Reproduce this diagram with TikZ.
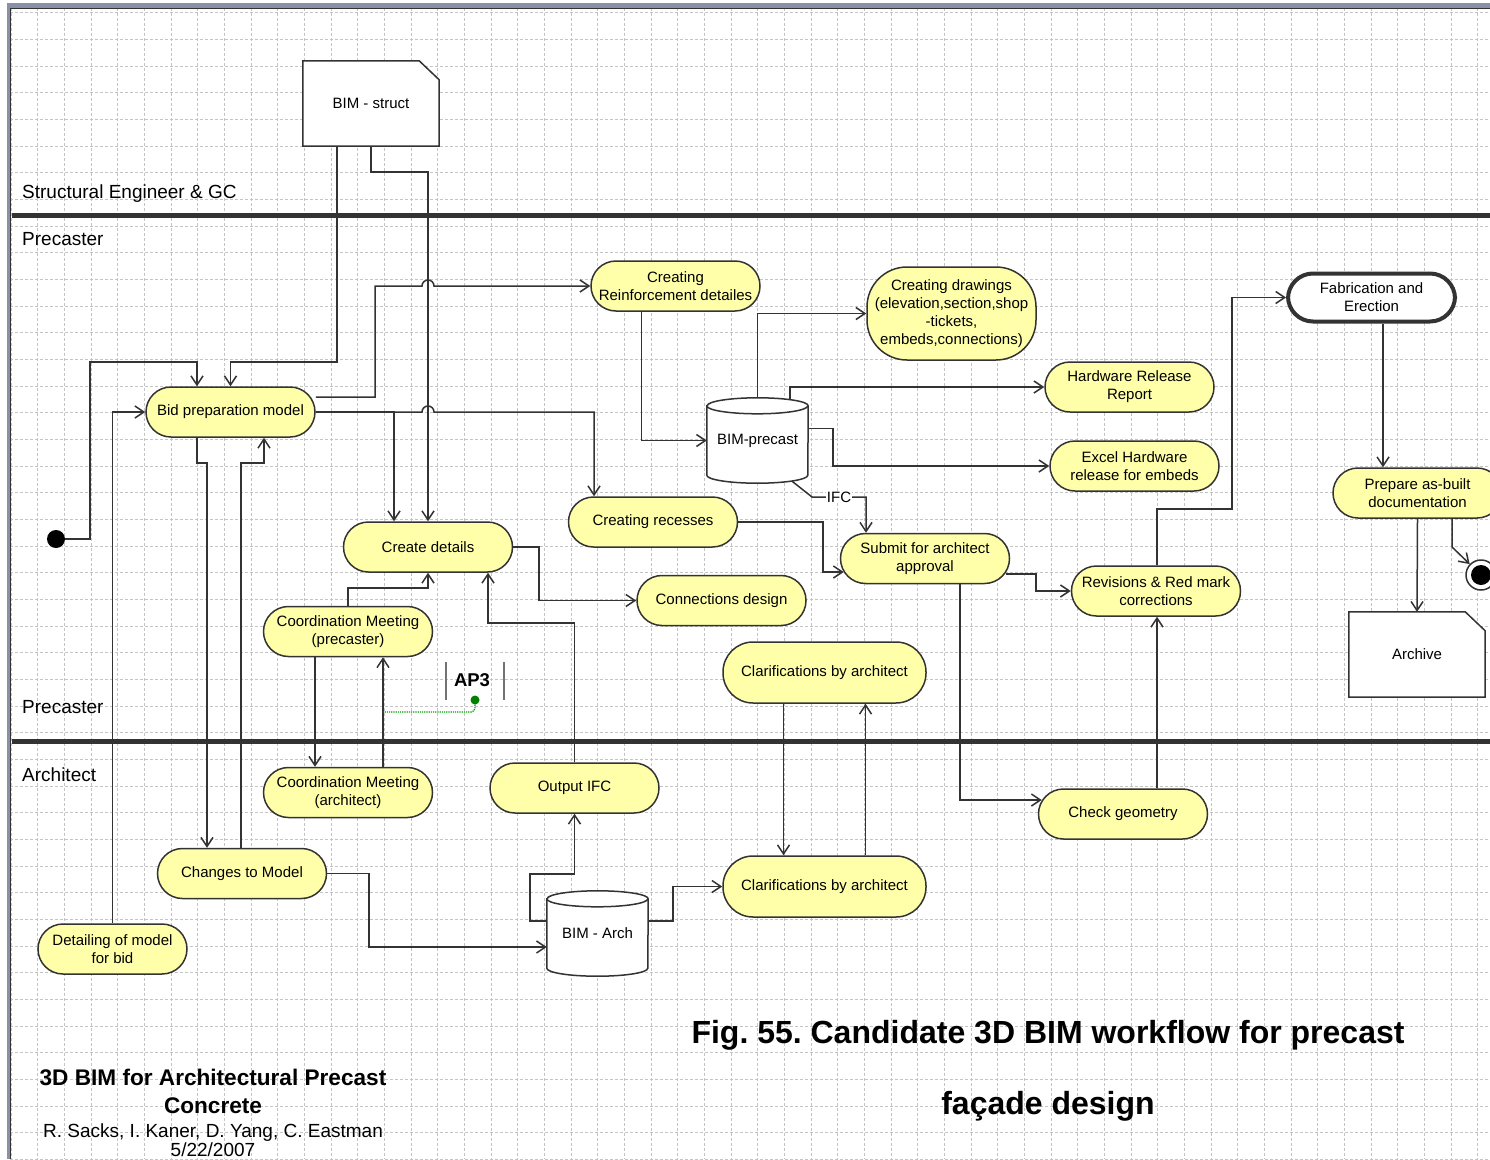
\documentclass[tikz,border=0pt]{standalone}
\usepackage{fontspec}
\setmainfont{Liberation Sans}
\usepackage{xcolor}
\usepackage{tikz}
\usetikzlibrary{arrows.meta,backgrounds}
\frenchspacing
\definecolor{bimyellow}{HTML}{FFFFAA}
\definecolor{bimline}{HTML}{333333}
\definecolor{bimframe}{HTML}{8A91A6}
\definecolor{bimgrid}{HTML}{C4C4C4}
\definecolor{bimgreen}{HTML}{00A000}
\newcommand{\nodesize}{\fontsize{15}{18}\selectfont}
\tikzset{
  act/.style={rectangle,rounded corners=25pt,draw=bimline,fill=bimyellow,line width=1.5pt,align=center,font=\nodesize,minimum width=169pt,minimum height=50pt,inner sep=1pt},
  clar/.style={act,minimum width=203pt,minimum height=61pt,rounded corners=30pt},
  docbox/.style={minimum width=136pt,minimum height=85pt,font=\nodesize,inner sep=0pt},
  dbase/.style={minimum width=101pt,minimum height=85pt,font=\nodesize,inner sep=0pt},
  shapeln/.style={draw=bimline,line width=1.5pt},
  startnode/.style={circle,fill=black,minimum size=18pt,inner sep=0pt},
  endnode/.style={circle,draw=bimline,line width=1.5pt,fill=white,minimum size=30pt,inner sep=0pt},
  flow/.style={draw=bimline,line width=1.5pt,-{Straight Barb[length=9pt,width=12pt]}},
  ifclbl/.style={fill=white,inner sep=1pt,font=\nodesize},
  gridln/.style={draw=bimgrid,line width=0.7pt,dash pattern=on 3pt off 2pt},
  lane/.style={draw=bimline,line width=5pt},
  lanelbl/.style={anchor=west,inner sep=0pt,font=\fontsize{19}{22}\selectfont},
  figcap/.style={anchor=base,font=\fontsize{32}{36}\selectfont\bfseries},
  titlebold/.style={anchor=base,font=\fontsize{22.6}{26}\selectfont\bfseries},
  titlenorm/.style={anchor=base,font=\fontsize{19}{22}\selectfont},
  apbar/.style={draw=black!55,line width=1.5pt},
  apdot/.style={circle,fill=bimgreen!80!black,minimum size=9pt,inner sep=0pt},
  apline/.style={draw=bimgreen,line width=1.3pt,dash pattern=on 1.2pt off 1pt,rounded corners=4pt},
}
% document (cut corner) and database (cylinder) outlines
\newcommand{\docshape}[1]{\filldraw[shapeln,fill=white] (#1.south west) -- (#1.north west) -- ([xshift=-20pt]#1.north east) -- ([yshift=-19pt]#1.north east) -- (#1.south east) -- cycle;}
\newcommand{\dbshape}[1]{%
  \filldraw[shapeln,fill=white] ([yshift=-8pt]#1.north west) -- ([yshift=8pt]#1.south west)
    arc[start angle=180,end angle=360,x radius=50.5pt,y radius=8pt] -- ([yshift=-8pt]#1.north east)
    arc[start angle=0,end angle=180,x radius=50.5pt,y radius=8pt] -- cycle;
  \draw[shapeln] ([yshift=-8pt]#1.north west) arc[start angle=180,end angle=360,x radius=50.5pt,y radius=8pt];}

\begin{document}
\begin{tikzpicture}[x=1pt,y=-1pt,font=\nodesize]
  \useasboundingbox (0,0) rectangle (1490,1159);
  % lanes
  \node[lanelbl] (lanese) at (22,193.5) {Structural Engineer \& GC};
  \node[lanelbl] (lanepre) at (22,239) {Precaster};
  \node[lanelbl] (laneprelow) at (22,707) {Precaster};
  \node[lanelbl] (lanearch) at (22,775) {Architect};
  % activities
  \node[docbox] (bimstruct) at (371,103.5) {BIM - struct};
  \node[act] (bid) at (230.5,412) {Bid preparation model};
  \node[act] (reinf) at (675.5,286) {Creating\\Reinforcement detailes};
  \node[act,minimum height=93pt,rounded corners=40pt] (drawings) at (951.5,313.5) {Creating drawings\\(elevation,section,shop\\-tickets,\\embeds,connections)};
  \node[dbase] (bimprecast) at (757.5,440.5) {BIM-precast};
  \node[act] (hwrelease) at (1129.5,387) {Hardware Release\\Report};
  \node[act] (excel) at (1134.5,466) {Excel Hardware\\release for embeds};
  \node[act,fill=white,line width=4pt,minimum width=167pt,minimum height=48pt] (fab) at (1371.5,297.5) {Fabrication and\\Erection};
  \node[act] (asbuilt) at (1417.5,493) {Prepare as-built\\documentation};
  \node[endnode] (final) at (1481,575) {};
  \fill[black] (final.center) circle[radius=10pt];
  \node[docbox] (archive) at (1417,654.5) {Archive};
  \node[act] (details) at (428,547) {Create details};
  \node[act] (recesses) at (653,522) {Creating recesses};
  \node[act] (submit) at (925,558.5) {Submit for architect\\approval};
  \node[act] (revisions) at (1156,591) {Revisions \& Red mark\\corrections};
  \node[act] (connections) at (721.5,600.5) {Connections design};
  \node[act] (coordpre) at (348,631.5) {Coordination Meeting\\(precaster)};
  \node[clar] (clarup) at (824.5,672.5) {Clarifications by architect};
  \node[act] (coordarch) at (348,792.5) {Coordination Meeting\\(architect)};
  \node[act] (outifc) at (574.5,788) {Output IFC};
  \node[act] (checkgeo) at (1123,814) {Check geometry};
  \node[act] (changes) at (242,873.5) {Changes to Model};
  \node[clar] (clarlow) at (824.5,886.5) {Clarifications by architect};
  \node[dbase] (bimarch) at (597.5,933.5) {BIM - Arch};
  \node[act,minimum width=149pt] (detailing) at (112.5,949) {Detailing of model\\for bid};
  \node[startnode] (start) at (56,539) {};
  % AP3 marker
  \node[font=\fontsize{18.5}{20}\selectfont\bfseries] (apthree) at (472,680) {AP3};
  \draw[apbar] (446,662) -- (446,700);
  \draw[apbar] (504,662) -- (504,700);
  \node[apdot] (apdot) at (475,700) {};
  \coordinate (aptap) at (383,712);
  % captions
  \node[figcap] (capa) at (1048,1043) {Fig. 55. Candidate 3D BIM workflow for precast};
  \node[figcap] (capb) at (1048,1114) {façade design};
  \node[titlebold] (titlea) at (213,1085) {3D BIM for Architectural Precast};
  \node[titlebold] (titleb) at (213,1113) {Concrete};
  \node[titlenorm] (authors) at (213,1137) {R. Sacks, I. Kaner, D. Yang, C. Eastman};
  \node[titlenorm] (dated) at (213,1156) {5/22/2007};

  \begin{scope}[on background layer]
    \fill[white] (0,0) rectangle (1490,1159);
    \foreach \i in {0,...,55} \draw[gridln] ({11+26.667*\i},8) -- ({11+26.667*\i},1159);
    \foreach \j in {0,...,43} \draw[gridln] (10,{12.7+26.667*\j}) -- (1490,{12.7+26.667*\j});
    \fill[bimframe] (7,3) rectangle (1490,8);
    \fill[bimframe] (7,3) rectangle (10,1159);
    \draw[bimline,line width=0.8pt] (10,8.4) -- (1490,8.4);
    \draw[bimline,line width=0.8pt] (10.4,8) -- (10.4,1159);
    \draw[lane] (12,215) -- (1490,215);
    \draw[lane] (12,741) -- (1490,741);
    \docshape{bimstruct}
    \docshape{archive}
    \dbshape{bimprecast}
    \dbshape{bimarch}
    % flows
    \draw[flow] (start) -| (90,362) -| ([xshift=-33.5pt]bid.north);
    \draw[flow] ([xshift=-34pt]bimstruct.south) -- (337,362) -| (bid.north);
    \draw[flow] (bimstruct.south) -- (371,172) -| (details.north);
    \draw[flow] ([yshift=15pt]bid.east) -| (375,286) -- (422,286) arc[start angle=180,end angle=0,radius=6pt] -- (reinf.west);
    \draw[flow] (bid.east) -| ([xshift=-34pt]details.north);
    \draw[flow] (bid.east) -- (422,412) arc[start angle=180,end angle=0,radius=6pt] -| ([xshift=-59pt]recesses.north);
    \draw[flow] ([xshift=-33.5pt]bid.south) -- (197,463) -| ([xshift=-35pt]changes.north);
    \draw[flow] ([xshift=-1pt]changes.north) -- (241,463) -| ([xshift=33.5pt]bid.south);
    \draw[flow] (detailing.north) |- (bid.west);
    \draw[flow] ([xshift=-34pt]reinf.south) |- (bimprecast.west);
    \draw[flow] (bimprecast.north) |- (drawings.west);
    \draw[flow] ([xshift=32.5pt,yshift=-2pt]bimprecast.north) |- (hwrelease.west);
    \draw[flow] ([yshift=12pt]bimprecast.east) -| (833,466) -- (excel.west);
    \draw[flow] ([xshift=34.5pt,yshift=2pt]bimprecast.south) -- (812,497) -- node[ifclbl] (ifc) {IFC} (866,497) -- ([xshift=-59pt]submit.north);
    \draw[flow] (recesses.east) -| (823,572) -- ([xshift=4pt,yshift=-13.5pt]submit.west);
    \draw[flow] (details.east) -| (539,600.5) -- (connections.west);
    \draw[flow] (coordpre.north) -- (348,588) -| (details.south);
    \draw[flow] (outifc.north) -- (574.5,623) -| ([xshift=60pt]details.south);
    \draw[flow] ([xshift=-33pt]coordpre.south) -- ([xshift=-33pt]coordarch.north);
    \draw[flow] ([xshift=35pt]coordarch.north) -- ([xshift=35pt]coordpre.south);
    \draw[flow] ([xshift=-41pt]clarup.south) -- ([xshift=-41pt]clarlow.north);
    \draw[flow] ([xshift=41pt]clarlow.north) -- ([xshift=41pt]clarup.south);
    \draw[flow] (changes.east) -| (369,947) -- ([yshift=-13.5pt]bimarch.west);
    \draw[flow] ([yshift=12.5pt]bimarch.west) -- (530,921) |- (574.5,874) -- (outifc.south);
    \draw[flow] ([yshift=12.5pt]bimarch.east) -- (673,921) |- (clarlow.west);
    \draw[flow] ([xshift=35pt]submit.south) |- ([xshift=4pt,yshift=14pt]checkgeo.west);
    \draw[flow] ([xshift=34pt]checkgeo.north) -- ([xshift=1pt]revisions.south);
    \draw[flow] ([xshift=-4pt,yshift=-15.5pt]submit.east) -| (1036,591) -- (revisions.west);
    \draw[flow] ([xshift=1pt]revisions.north) -- (1157,509) -| (1232,297.5) -- (fab.west);
    \draw[flow] ([xshift=11.5pt]fab.south) -- ([xshift=-34.5pt]asbuilt.north);
    \draw[flow] (asbuilt.south) -- (archive.north);
    \draw[flow] ([xshift=34.5pt]asbuilt.south) -- (1452,547) -- (final);
    \draw[apline] (apdot) |- (aptap);
  \end{scope}
\end{tikzpicture}
\end{document}
